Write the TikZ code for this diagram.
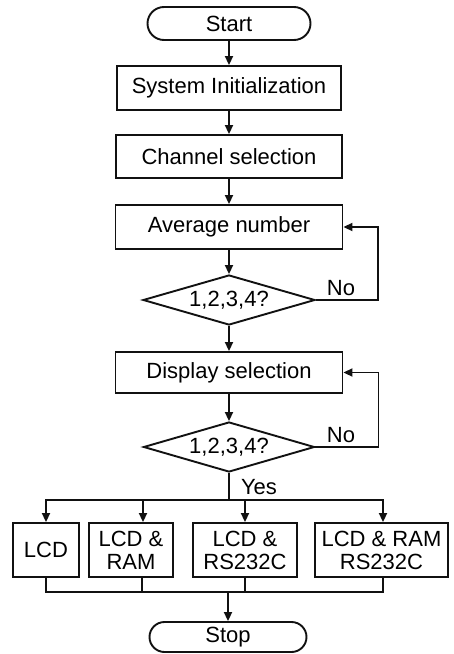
\documentclass[tikz,border=0pt]{standalone}
\usepackage{fontspec}
\setmainfont{Liberation Sans}
\usetikzlibrary{arrows.meta,shapes.geometric,shapes.misc}
\definecolor{inkblack}{HTML}{111111}

\begin{document}
\begin{tikzpicture}[x=1pt, y=-1pt, line width=1.9pt, >={Triangle[length=9pt,width=8pt]},
  font=\fontsize{22}{23}\selectfont,
  proc/.style={draw=inkblack, rectangle, inner sep=0pt, align=center},
  term/.style={draw=inkblack, rounded rectangle, inner sep=0pt},
  test/.style={draw=inkblack, diamond, aspect=3.4, inner sep=0pt},
  wire/.style={draw=inkblack}]
  \useasboundingbox (0,0) rectangle (453,654);

  \node[term, minimum width=163pt, minimum height=33pt] (start) at (229,23.5) {Start};
  \node[proc, minimum width=224pt, minimum height=44pt] (sysinit) at (229,88) {System Initialization};
  \node[proc, minimum width=226pt, minimum height=43pt] (chansel) at (229,156.5) {Channel selection};
  \node[proc, minimum width=227pt, minimum height=44pt] (avgnum) at (229,227) {Average number};
  \node[test, minimum width=172pt, minimum height=50pt] (avgtest) at (229,300) {1,2,3,4?};
  \node[proc, minimum width=227pt, minimum height=41pt] (dispsel) at (229,372.5) {Display selection};
  \node[test, minimum width=171pt, minimum height=50pt] (disptest) at (229,447) {1,2,3,4?};

  \node[proc, minimum width=66pt, minimum height=54pt] (lcd) at (46,550) {LCD};
  \node[proc, minimum width=84pt, minimum height=54pt] (lcdram) at (131,550) {LCD \&\\RAM};
  \node[proc, minimum width=104pt, minimum height=54pt] (lcdrs) at (245,550) {LCD \&\\RS232C};
  \node[proc, minimum width=133pt, minimum height=54pt] (lcdramrs) at (381.5,550) {LCD \& RAM\\RS232C};
  \node[term, minimum width=157pt, minimum height=30pt] (stop) at (228,637) {Stop};

  \draw[wire, ->] (start) -- (sysinit);
  \draw[wire, ->] (sysinit) -- (chansel);
  \draw[wire, ->] (chansel) -- (avgnum);
  \draw[wire, ->] (avgnum) -- (avgtest);
  \draw[wire, ->] (avgtest) -- (dispsel);
  \draw[wire, ->] (dispsel) -- (disptest);

  % retry loops
  \draw[wire, ->] (avgtest.east) -- ++(62,0) |- (avgnum.east);
  \node (avgno) at (341,288) {No};
  \draw[wire, ->] (disptest.east) -- ++(63,0) |- (dispsel.east);
  \node (dispno) at (341,435) {No};

  % fan out to the display modes
  \coordinate (fork) at (229,500);
  \draw[wire] (disptest.south) -- (fork);
  \node (yes) at (259,487) {Yes};
  \draw[wire, ->] (fork) -| (lcd.north);
  \draw[wire, ->] (fork) -| ([xshift=12pt]lcdram.north);
  \draw[wire, ->] (fork) -| (lcdrs.north);
  \draw[wire, ->] (fork) -| ([xshift=1.5pt]lcdramrs.north);

  % collect again
  \coordinate (join) at (228,592);
  \draw[wire] (lcd.south) |- (join);
  \draw[wire] ([xshift=11pt]lcdram.south) |- (join);
  \draw[wire] (lcdrs.south) |- (join);
  \draw[wire] ([xshift=1.5pt]lcdramrs.south) |- (join);
  \draw[wire, ->] (join) -- (stop);
\end{tikzpicture}
\end{document}
